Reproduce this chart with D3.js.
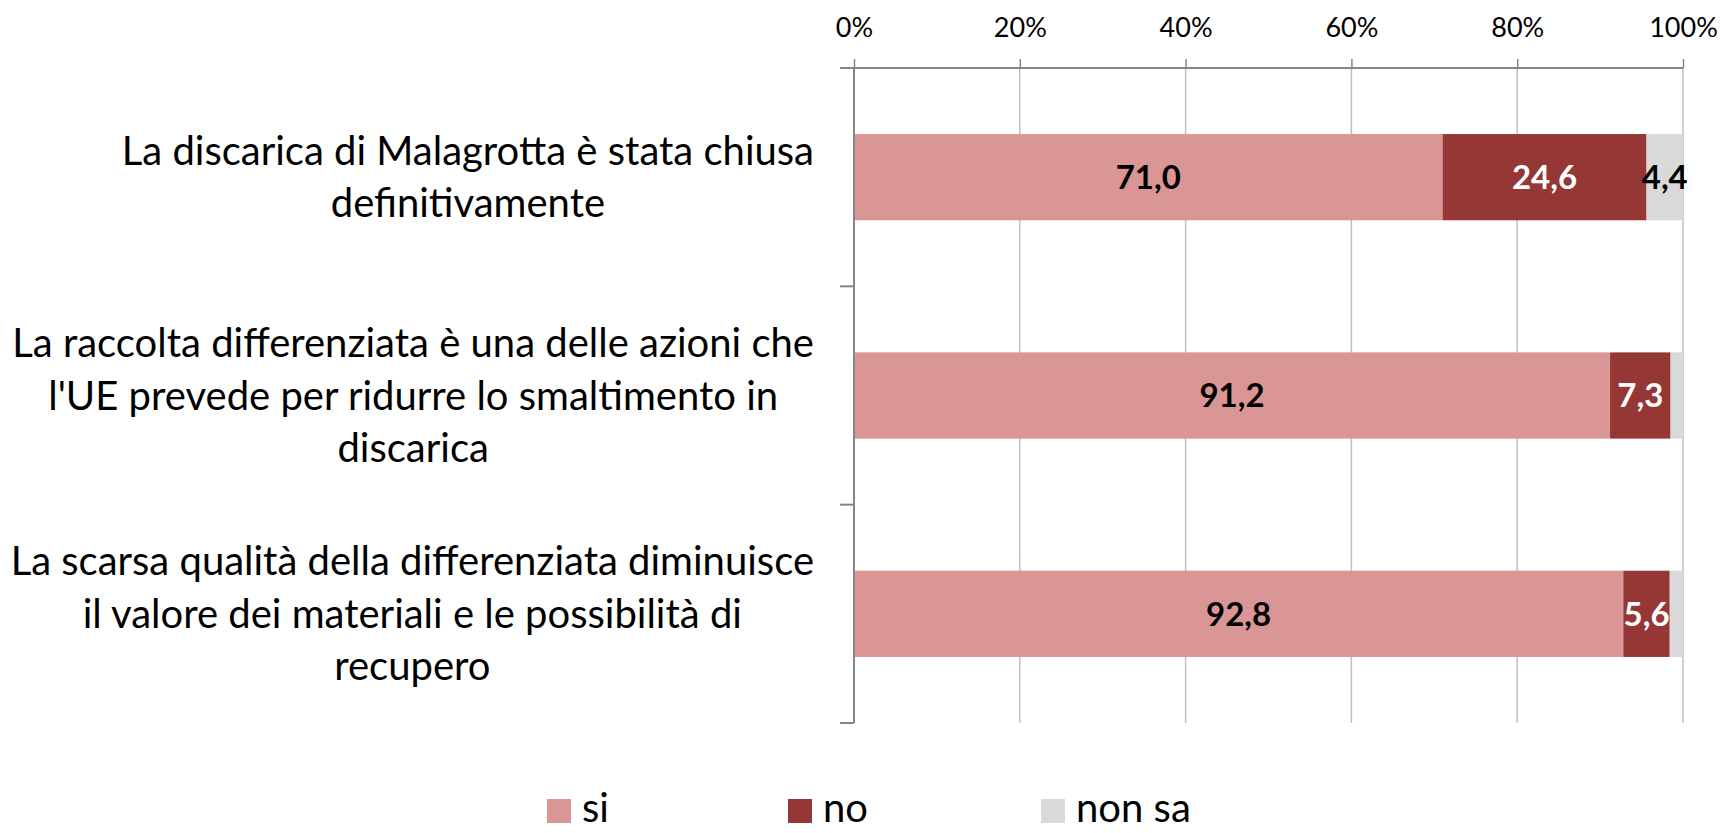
<!DOCTYPE html>
<html>
<head>
<meta charset="utf-8">
<script src="https://cdn.jsdelivr.net/npm/d3@7"></script>
<style>
  html, body { margin: 0; padding: 0; background: #fff; overflow: hidden; }
  svg { display: block; font-family: Lato, "Open Sans", sans-serif; }
</style>
</head>
<body>
<div id="chart"></div>
<script>
// data
const categories = [
  "La discarica di Malagrotta è stata chiusa definitivamente",
  "La raccolta differenziata è una delle azioni che l'UE prevede per ridurre lo smaltimento in discarica",
  "La scarsa qualità della differenziata diminuisce il valore dei materiali e le possibilità di recupero"
];
// wrapped as in the picture
const categoryLines = [
  ["La discarica di Malagrotta è stata chiusa", "definitivamente"],
  ["La raccolta differenziata è una delle azioni che", "l'UE prevede per ridurre lo smaltimento in", "discarica"],
  ["La scarsa qualità della differenziata diminuisce", "il valore dei materiali e le possibilità di", "recupero"]
];
const seriesNames = ["si", "no", "non sa"];
const siValues = [71.0, 91.2, 92.8];
const noValues = [24.6, 7.3, 5.6];
const nonSaValues = [4.4, 1.5, 1.6];
const tickValues = [0, 20, 40, 60, 80, 100];

const colors = ["#d99694", "#953735", "#d9d9d9"];
const labelColors = ["#000", "#fff", "#000"];

const width = 1721, height = 833;

const svg = d3.select("#chart").append("svg")
  .attr("width", width)
  .attr("height", height);

const x = d3.scaleLinear().domain([0, 100]).range([854, 1683]);
const y = d3.scaleBand().domain(categories).range([68, 723])
  .paddingInner(0.605).paddingOuter(0.3025);
const step = y.step();

// gridlines
svg.append("g").selectAll("line")
  .data(tickValues.slice(1))
  .join("line")
  .attr("x1", d => x(d)).attr("x2", d => x(d))
  .attr("y1", 68).attr("y2", 723)
  .attr("stroke", "#bfbfbf").attr("stroke-width", 1.5);

// top axis with small ticks
const xAxis = svg.append("g")
  .attr("transform", "translate(0,68)")
  .call(d3.axisTop(x).tickValues(tickValues).tickSize(9).tickFormat(d => d + "%"));
xAxis.select(".domain").attr("stroke", "#868686").attr("stroke-width", 2)
  .attr("d", `M${x(0) - 8},0H${x(100)}`);
xAxis.selectAll(".tick line").attr("stroke", "#868686").attr("stroke-width", 1.5);
xAxis.selectAll(".tick text")
  .attr("y", -31)
  .style("font-size", "27px")
  .style("font-family", "Lato, sans-serif")
  .attr("fill", "#000");

// stacked bars
const stack = categories.map((c, i) => {
  const vals = [siValues[i], noValues[i], nonSaValues[i]];
  let acc = 0;
  return vals.map((v, k) => {
    const seg = { cat: c, k: k, v: v, x0: acc, x1: acc + v };
    acc += v;
    return seg;
  });
});

const barG = svg.append("g");
stack.forEach(row => {
  barG.selectAll(null)
    .data(row)
    .join("rect")
    .attr("x", d => x(d.x0))
    .attr("y", d => y(d.cat))
    .attr("width", d => x(d.x1) - x(d.x0))
    .attr("height", y.bandwidth())
    .attr("fill", d => colors[d.k]);
});

// left axis line with category ticks
const yAxisG = svg.append("g");
yAxisG.append("line")
  .attr("x1", x(0)).attr("x2", x(0))
  .attr("y1", 68).attr("y2", 723)
  .attr("stroke", "#868686").attr("stroke-width", 2);
yAxisG.selectAll("line.tk")
  .data(d3.range(categories.length + 1))
  .join("line")
  .attr("class", "tk")
  .attr("x1", x(0) - 14).attr("x2", x(0))
  .attr("y1", i => 68 + i * step).attr("y2", i => 68 + i * step)
  .attr("stroke", "#868686").attr("stroke-width", 2);

// value labels (non sa of bars 2 and 3 have no label in the reference)
stack.forEach((row, i) => {
  barG.selectAll(null)
    .data(row.filter(d => !(d.k === 2 && i > 0)))
    .join("text")
    .attr("x", d => (x(d.x0) + x(d.x1)) / 2)
    .attr("y", d => y(d.cat) + y.bandwidth() / 2)
    .attr("dy", "0.36em")
    .attr("text-anchor", "middle")
    .style("font-size", "33px")
    .style("font-weight", "bold")
    .attr("fill", d => labelColors[d.k])
    .text(d => d3.format(".1f")(d.v).replace(".", ","));
});

// category labels: block right-aligned, lines centred to each other
const catG = svg.append("g");
const lineH = 52.5;
categoryLines.forEach((lines, i) => {
  const g = catG.append("g");
  const cy = y(categories[i]) + y.bandwidth() / 2;
  const texts = g.selectAll("text")
    .data(lines)
    .join("text")
    .attr("y", (d, j) => cy + (j - (lines.length - 1) / 2) * lineH)
    .attr("dy", "0.35em")
    .attr("text-anchor", "middle")
    .style("font-size", "40px")
    .attr("fill", "#000")
    .text(d => d);
  let maxW = 0;
  texts.each(function() { maxW = Math.max(maxW, this.getComputedTextLength()); });
  texts.attr("x", 814 - maxW / 2);
});

// legend (nudged up a little so the text stays inside the page)
const legendX = [547, 788, 1041];
const legend = svg.append("g");
seriesNames.forEach((name, i) => {
  legend.append("rect")
    .attr("x", legendX[i]).attr("y", 799)
    .attr("width", 24).attr("height", 24)
    .attr("fill", colors[i]);
  legend.append("text")
    .attr("x", legendX[i] + 35).attr("y", 822)
    .style("font-size", "40px")
    .attr("fill", "#000")
    .text(name);
});
</script>
</body>
</html>
